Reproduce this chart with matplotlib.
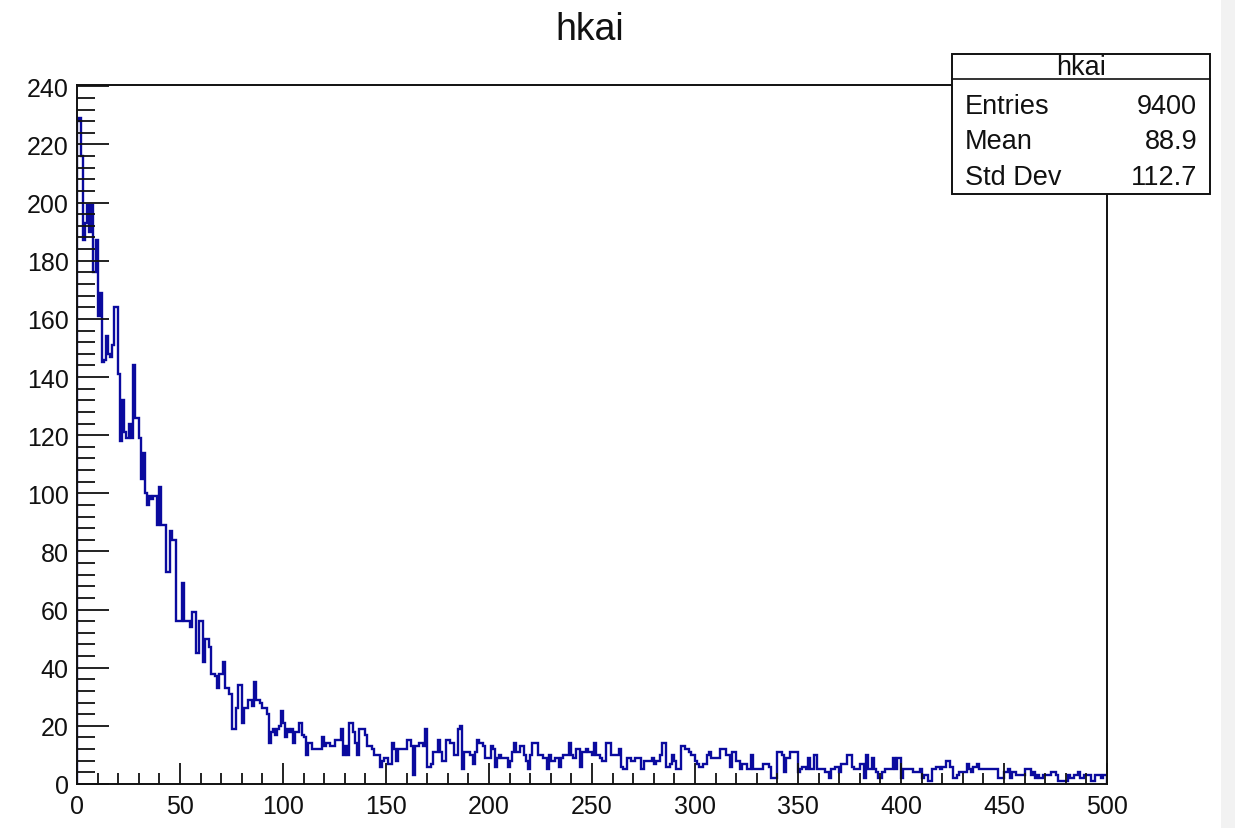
import numpy as np
import matplotlib
matplotlib.use("Agg")
import matplotlib.pyplot as plt
from matplotlib.patches import Rectangle
from matplotlib.lines import Line2D
from matplotlib.ticker import MultipleLocator

# histogram definition: 500 bins from 0 to 500
nbins = 500
xmin, xmax = 0, 500

# bin contents, 10 bins per row
counts = [
    228, 229, 216, 187, 193, 199, 190, 199, 176, 187,
    161, 169, 145, 146, 154, 148, 147, 151, 164, 164,
    141, 118, 132, 121, 119, 124, 119, 144, 126, 126,
    119, 105, 114, 100, 96, 99, 98, 99, 99, 89,
    102, 89, 89, 73, 73, 87, 84, 84, 56, 56,
    56, 69, 56, 56, 56, 54, 59, 59, 45, 56,
    56, 42, 50, 50, 47, 38, 38, 37, 33, 38,
    38, 42, 33, 33, 31, 19, 19, 26, 34, 34,
    21, 26, 26, 29, 29, 27, 35, 29, 29, 28,
    26, 26, 24, 14, 18, 19, 17, 19, 20, 25,
    21, 16, 19, 18, 19, 14, 18, 18, 21, 17,
    16, 10, 14, 14, 12, 12, 12, 12, 12, 16,
    13, 14, 14, 13, 13, 15, 15, 15, 19, 10,
    13, 10, 21, 21, 18, 14, 10, 19, 19, 19,
    17, 13, 13, 12, 10, 10, 10, 6, 8, 9,
    9, 7, 7, 14, 12, 8, 12, 12, 12, 12,
    15, 15, 13, 3, 13, 13, 14, 14, 13, 19,
    6, 6, 7, 11, 11, 15, 11, 8, 8, 15,
    15, 14, 14, 10, 10, 19, 20, 5, 11, 11,
    11, 10, 7, 11, 15, 14, 14, 13, 9, 9,
    9, 13, 12, 6, 9, 10, 9, 9, 9, 6,
    8, 11, 14, 11, 11, 13, 13, 10, 8, 5,
    10, 14, 14, 14, 10, 10, 9, 9, 5, 10,
    8, 8, 9, 9, 6, 9, 10, 10, 10, 14,
    10, 9, 12, 12, 6, 11, 11, 12, 11, 11,
    10, 14, 10, 10, 9, 8, 8, 14, 14, 10,
    10, 10, 10, 12, 6, 5, 5, 9, 9, 8,
    8, 9, 9, 9, 5, 8, 8, 8, 8, 9,
    7, 8, 8, 10, 14, 14, 6, 6, 7, 10,
    8, 5, 5, 13, 13, 12, 12, 11, 10, 10,
    8, 7, 6, 6, 7, 7, 10, 11, 9, 9,
    9, 9, 12, 12, 12, 10, 10, 6, 11, 11,
    8, 8, 5, 7, 7, 5, 5, 10, 5, 5,
    5, 5, 5, 7, 7, 7, 6, 2, 2, 2,
    11, 11, 10, 4, 9, 9, 11, 11, 11, 11,
    4, 5, 6, 6, 5, 9, 5, 5, 10, 5,
    5, 5, 5, 4, 4, 2, 5, 5, 6, 6,
    4, 7, 7, 7, 10, 10, 6, 5, 5, 5,
    7, 7, 2, 10, 5, 5, 9, 5, 4, 2,
    2, 4, 5, 5, 5, 5, 9, 5, 9, 9,
    2, 5, 5, 5, 5, 5, 4, 4, 4, 5,
    2, 3, 3, 1, 1, 5, 5, 6, 6, 5,
    6, 6, 8, 8, 6, 2, 2, 3, 4, 4,
    4, 4, 7, 5, 4, 6, 6, 7, 5, 5,
    5, 5, 5, 5, 5, 5, 5, 2, 2, 2,
    4, 4, 5, 2, 4, 4, 3, 3, 3, 3,
    5, 5, 5, 3, 4, 2, 3, 2, 2, 3,
    3, 3, 3, 4, 4, 3, 1, 1, 1, 1,
    1, 3, 2, 2, 3, 3, 4, 2, 2, 3,
    3, 3, 1, 1, 3, 3, 3, 2, 3, 3,
]

hist_name = "hkai"
stat_labels = ["Entries", "Mean", "Std Dev"]
stat_values = ["9400", "88.9", "112.7"]

plt.rcParams['font.family'] = ['Liberation Sans', 'DejaVu Sans']
ink = '#111111'

fig = plt.figure(figsize=(12.35, 8.29), dpi=100)
ax = fig.add_axes([77/1235, 1 - 785/829, (1107 - 77)/1235, (785 - 86)/829])

edges = np.linspace(xmin, xmax, nbins + 1)
ax.stairs(counts, edges, color='#0a0a9e', lw=1.7)

ax.set_xlim(xmin, xmax)
ax.set_ylim(0, 1.05 * max(counts))

ax.xaxis.set_major_locator(MultipleLocator(50))
ax.xaxis.set_minor_locator(MultipleLocator(10))
ax.yaxis.set_major_locator(MultipleLocator(20))
ax.yaxis.set_minor_locator(MultipleLocator(4))
ax.tick_params(axis='both', which='both', direction='in', top=False, right=False,
               width=1.3, colors=ink, labelcolor=ink, labelsize=18)
ax.tick_params(axis='x', which='major', length=15, pad=7)
ax.tick_params(axis='x', which='minor', length=8)
ax.tick_params(axis='y', which='major', length=23, pad=6)
ax.tick_params(axis='y', which='minor', length=13)
for sp in ax.spines.values():
    sp.set_linewidth(1.4)
    sp.set_color(ink)

fig.text(590/1235, 1 - 30/829, hist_name, ha='center', va='center', fontsize=27, color=ink)

# stats box
bx0, bx1 = 952/1235, 1210/1235
by0, by1 = 1 - 195/829, 1 - 55/829
fig.patches.append(Rectangle((bx0, by0), bx1 - bx0, by1 - by0, transform=fig.transFigure,
                             facecolor='white', edgecolor=ink, lw=1.4, zorder=5))
hy = 1 - 80/829
fig.lines.append(Line2D([bx0, bx1], [hy, hy], transform=fig.transFigure,
                        color=ink, lw=1.2, zorder=6))
fig.text((bx0 + bx1) / 2, 1 - 68/829, hist_name, ha='center', va='center',
         fontsize=19.5, color=ink, zorder=7)
row_y = [107, 142, 178]
for lab, val, yy in zip(stat_labels, stat_values, row_y):
    fig.text(965/1235, 1 - yy/829, lab, ha='left', va='center', fontsize=19.5,
             color=ink, zorder=7)
    fig.text(1197/1235, 1 - yy/829, val, ha='right', va='center', fontsize=19.5,
             color=ink, zorder=7)

# light strip at the right edge of the screenshot
fig.patches.append(Rectangle((1221/1235, 0), 14/1235, 1, transform=fig.transFigure,
                             facecolor='#f2f2f2', edgecolor='none', zorder=0))

fig.savefig('out.png', dpi=100)
